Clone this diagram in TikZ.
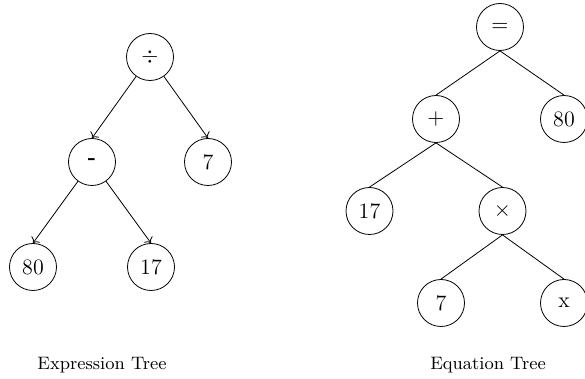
\documentclass[tikz,border=0pt]{standalone}
\usepackage{amsmath}
\usepackage{amssymb}
\usepackage{tikz}
\usetikzlibrary{arrows.meta, positioning}

\begin{document}
\begin{tikzpicture}[x=0.5pt, y=-0.5pt]
  \useasboundingbox (0,0) rectangle (585,379);

  % expression tree
  \begin{scope}[
    level distance=52.5pt,
    level 1/.style={sibling distance=58pt},
    level 2/.style={sibling distance=59pt},
    edge from parent/.style={draw,-{To}},
    edge from parent path={(\tikzparentnode) -- (\tikzchildnode.north)},
    every node/.style={circle, draw, minimum size=23.5pt, inner sep=0pt, font=\fontsize{11}{13}\selectfont}
    ]
    \node (div) at (150,57) {$\div$}
      child {node (minus) {\textbf{-}}
        child {node (eighty) {80}}
        child {node (seventeen) {17}}
      }
      child {node (seven) {7}};
  \end{scope}

  % equation tree
  \begin{scope}[
    level distance=46pt,
    level 1/.style={sibling distance=64pt},
    level 2/.style={sibling distance=66.5pt},
    level 3/.style={sibling distance=61.5pt},
    edge from parent/.style={draw},
    edge from parent path={(\tikzparentnode.south) -- (\tikzchildnode.north)},
    every node/.style={circle, draw, minimum size=23.5pt, inner sep=0pt, font=\fontsize{11}{13}\selectfont}
    ]
    \node (eq) at (500,27) {$=$}
      child {node (plus) {$+$}
        child {node (eqseventeen) {17}}
        child {node (times) {$\times$}
          child {node (eqseven) {7}}
          child {node (var) {x}}
        }
      }
      child {node (eqeighty) {80}};
  \end{scope}

  \node[font=\fontsize{9}{11}\selectfont] (exprlabel) at (102,365) {Expression Tree};
  \node[font=\fontsize{9}{11}\selectfont] (eqlabel) at (488,365) {Equation Tree};

\end{tikzpicture}
\end{document}
